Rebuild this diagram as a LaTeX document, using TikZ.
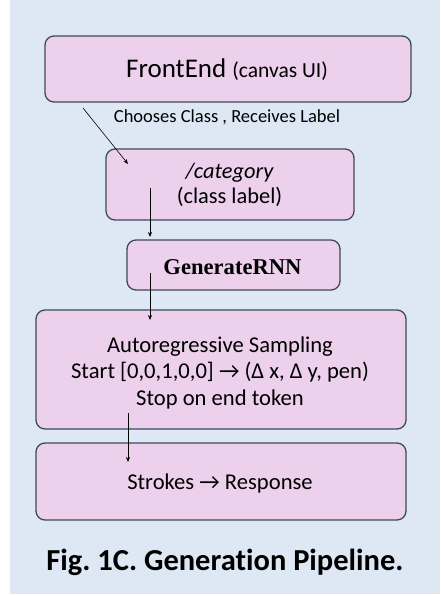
\documentclass[tikz,border=0pt]{standalone}
\usepackage{fontspec}
\setmainfont[Ligatures={NoCommon}]{Carlito}
\newfontfamily\timesfont{Liberation Serif}
\usetikzlibrary{arrows.meta}
\definecolor{bgblue}{HTML}{DEE8F5}
\definecolor{boxpink}{HTML}{ECD0EC}
\definecolor{boxline}{HTML}{3D4A5A}
\tikzset{
  stage/.style={draw=boxline, fill=boxpink, line width=1.3pt, rounded corners=9pt},
  flow/.style={-{Stealth[length=5pt,width=4pt]}, line width=0.6pt, black},
  txt/.style={inner sep=0pt, anchor=base, text=black, font=\frenchspacing}
}
\begin{document}
\frenchspacing
\begin{tikzpicture}[x=1pt,y=-1pt]
\useasboundingbox (0,0) rectangle (440,596);
\fill[bgblue] (10,0) rectangle (440,594);
% boxes
\draw[stage] (45,36) rectangle (411,102);
\node[txt] (fe) at (227,77.5) {\fontsize{27}{30}\selectfont FrontEnd {\fontsize{21.5}{24}\selectfont(canvas UI)}};
\node[txt] (lab) at (227,122.5) {\fontsize{18.5}{21}\selectfont Chooses Class , Receives Label};
\draw[stage] (106,149) rectangle (354,220);
\node[txt] (cat1) at (229.5,178) {\fontsize{22.4}{26}\selectfont\itshape /category};
\node[txt] (cat2) at (229.5,203.5) {\fontsize{22.4}{26}\selectfont (class label)};
\draw[stage] (127,240) rectangle (340,290);
\node[txt] (rnn) at (232.5,274) {\fontsize{22.6}{26}\selectfont\timesfont\bfseries GenerateRNN};
\draw[stage] (36,310) rectangle (406,429);
\node[txt] (a1) at (220,352) {\fontsize{22.6}{26}\selectfont Autoregressive Sampling};
\node[txt] (a2) at (220,378.5) {\fontsize{22.6}{26}\selectfont Start [0,0,1,0,0] → (Δ x, Δ y, pen)};
\node[txt] (a3) at (220,405) {\fontsize{22.6}{26}\selectfont Stop on end token};
\draw[stage] (36,443) rectangle (406,520);
\node[txt] (st) at (220,489) {\fontsize{22.6}{26}\selectfont Strokes → Response};
\node[txt] (cap) at (225,570) {\fontsize{30.5}{34}\selectfont\bfseries Fig. 1C. Generation Pipeline.};
% connectors
\coordinate (p1) at (83,108);
\coordinate (p2) at (128,164);
\coordinate (p3) at (150,188);
\coordinate (p4) at (150,237);
\coordinate (p5) at (150,273);
\coordinate (p6) at (150,320);
\coordinate (p7) at (128,413);
\coordinate (p8) at (128,462);
\draw[flow] (p1) -- (p2);
\draw[flow] (p3) -- (p4);
\draw[flow] (p5) -- (p6);
\draw[flow] (p7) -- (p8);
\end{tikzpicture}
\end{document}
